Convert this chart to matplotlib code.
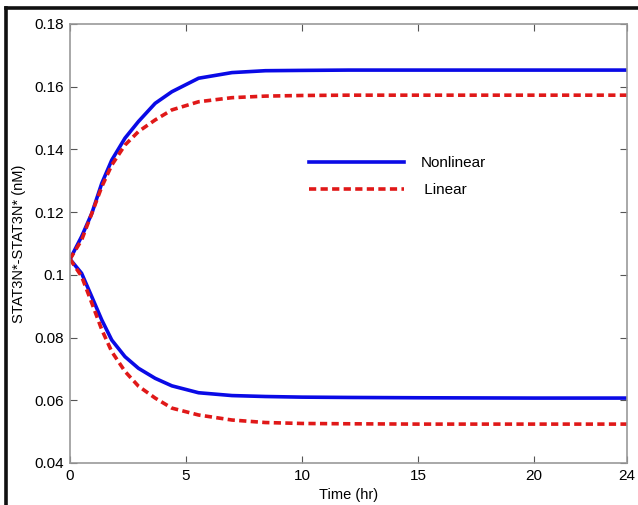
import matplotlib
matplotlib.use("Agg")
import matplotlib.pyplot as plt
from matplotlib.lines import Line2D

plt.rcParams['font.family'] = ['Liberation Sans', 'DejaVu Sans']

# STAT3N*-STAT3N* dimer, nonlinear vs linearized model
t = [0, 0.5, 0.94, 1.37, 1.8, 2.37, 2.95, 3.67, 4.39, 5.54, 6.98, 8.42, 10, 12, 15, 20, 24]
nl_up = [0.105, 0.1122, 0.1196, 0.1292, 0.1366, 0.1436, 0.1489, 0.1547, 0.1584, 0.1627,
         0.1645, 0.1651, 0.1652, 0.1653, 0.1653, 0.1653, 0.1653]
lin_up = [0.105, 0.1111, 0.1196, 0.1281, 0.135, 0.1414, 0.1457, 0.1494, 0.1526, 0.1552,
          0.1565, 0.157, 0.1572, 0.1573, 0.1573, 0.1573, 0.1573]
nl_lo = [0.105, 0.1005, 0.093, 0.0856, 0.0792, 0.0739, 0.0702, 0.067, 0.0646, 0.0624,
         0.0615, 0.0612, 0.061, 0.0609, 0.0608, 0.0607, 0.0607]
lin_lo = [0.105, 0.0995, 0.091, 0.0825, 0.0755, 0.0692, 0.0645, 0.0607, 0.0575, 0.0553,
          0.0537, 0.0529, 0.0526, 0.0525, 0.0524, 0.0524, 0.0524]

xticks = [0, 5, 10, 15, 20, 24]
yticks = [0.04, 0.06, 0.08, 0.1, 0.12, 0.14, 0.16, 0.18]
ytick_labels = ['0.04', '0.06', '0.08', '0.1', '0.12', '0.14', '0.16', '0.18']

blue = '#0a0ae6'
red = '#e01818'

fig = plt.figure(figsize=(6.38, 5.05), dpi=100)
ax = fig.add_axes([0.1097, 0.0832, 0.8731, 0.8693])

ax.plot(t, nl_up, color=blue, lw=2.6, label='Nonlinear')
ax.plot(t, lin_up, color=red, lw=2.6, linestyle=(0, (2.0, 1.2)), label=' Linear')
ax.plot(t, nl_lo, color=blue, lw=2.6)
ax.plot(t, lin_lo, color=red, lw=2.6, linestyle=(0, (2.0, 1.2)))

ax.set_xlim(0, 24)
ax.set_ylim(0.04, 0.18)
ax.set_xticks(xticks)
ax.set_yticks(yticks)
ax.set_yticklabels(ytick_labels)
ax.tick_params(direction='in', top=True, right=True, labelsize=11, length=5,
               color='#555555', pad=4)
for s in ax.spines.values():
    s.set_color('#999999')
    s.set_linewidth(1.2)

ax.set_xlabel('Time (hr)', fontsize=10.5, labelpad=4)
ax.set_ylabel('STAT3N*-STAT3N* (nM)', fontsize=10.5, labelpad=6)

ax.legend(loc='upper left', bbox_to_anchor=(0.415, 0.717), frameon=False,
          fontsize=11, handlelength=6.2, handletextpad=1.1, labelspacing=0.85,
          borderpad=0)

# black frame around the figure
fig.add_artist(Line2D([0.0094, 1.0], [0.985, 0.985], color='#111111', lw=2.6,
                      transform=fig.transFigure))
fig.add_artist(Line2D([0.0094, 0.0094], [0.0, 0.985], color='#111111', lw=2.6,
                      transform=fig.transFigure))

fig.savefig('out.png', dpi=100)
